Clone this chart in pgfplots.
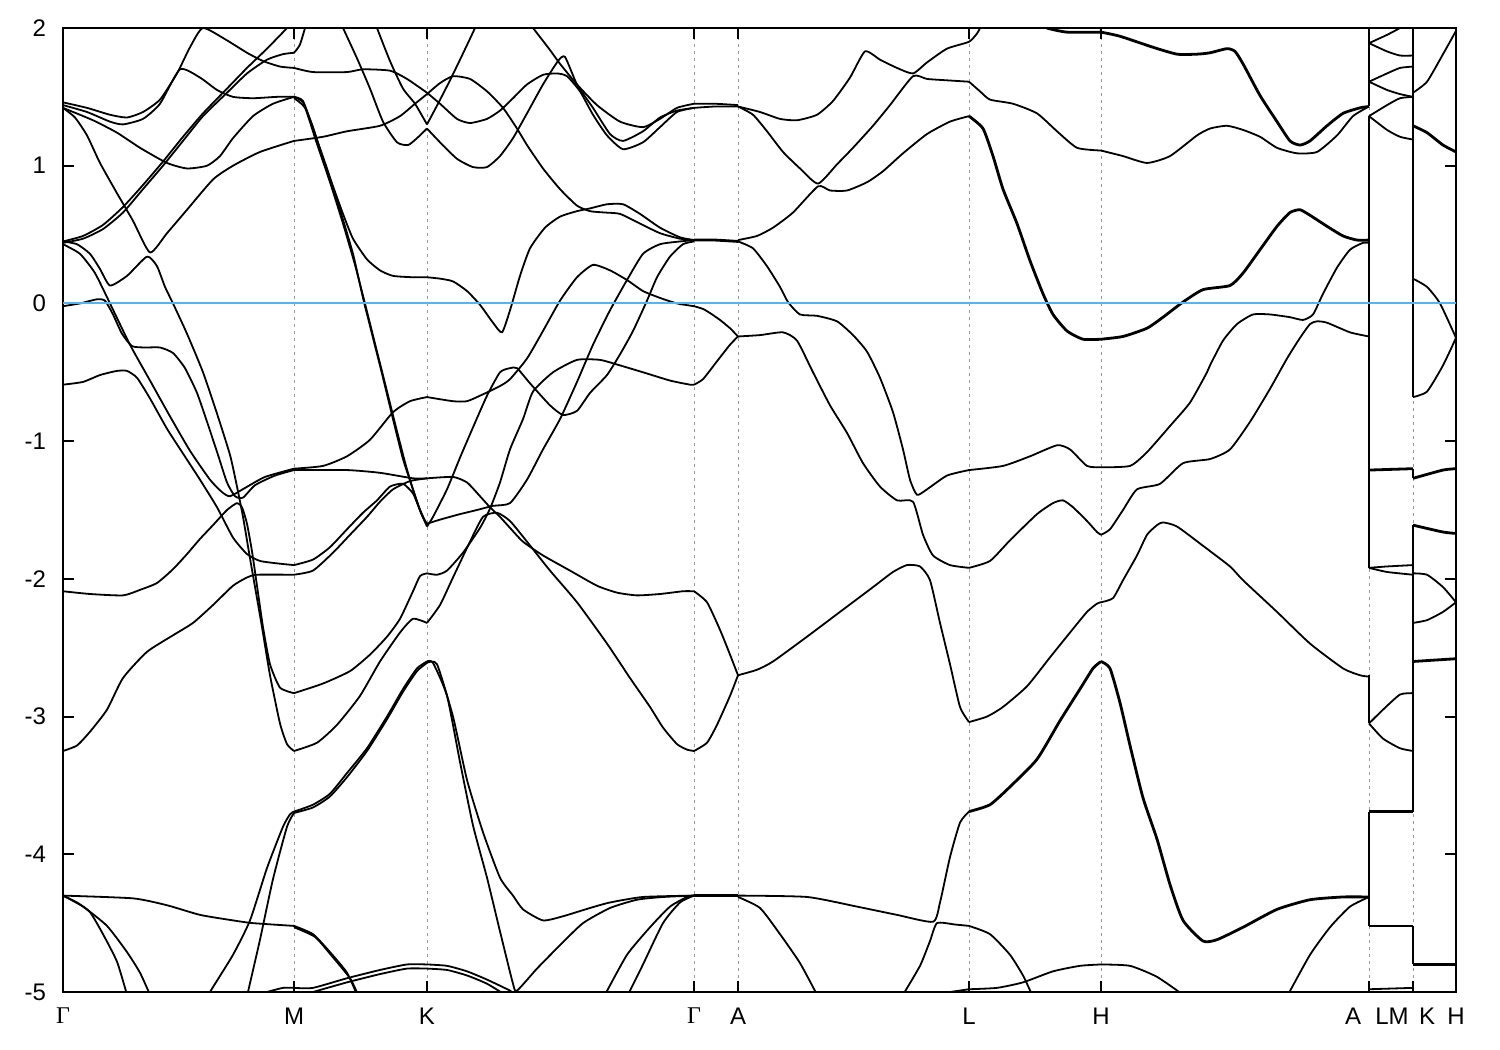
\documentclass[border=0pt]{standalone}
\usepackage{fontspec}
\setmainfont{Liberation Sans}
\newfontfamily\grk{Liberation Serif}
\usepackage{pgfplots}
\pgfplotsset{compat=1.18}
\definecolor{zeroblue}{RGB}{86,180,233}
\pgfplotsset{
  band/.style={black, line width=0.9pt, line join=round, smooth, tension=0.35},
  bandthick/.style={black, line width=1.4pt, line join=round, smooth, tension=0.35},
  jump/.style={black, line width=0.9pt},
}
\begin{document}
\begin{tikzpicture}
\useasboundingbox (-31.5pt,-29pt) rectangle (718.5pt,496pt);
\begin{axis}[
  at={(0pt,0pt)}, anchor=south west,
  scale only axis, width=696.5pt, height=482pt,
  xmin=63, xmax=1456, ymin=-5, ymax=2,
  xtick={63,294,427,694,738,969,1101,1369,1413,1456},
  xticklabels={{\grk Γ},M,K,{\grk Γ},A,L,H,{},{},H},
  extra x ticks={1353,1392,1427},
  extra x tick labels={A,LM,K},
  extra x tick style={major tick length=0pt, xmajorgrids=false},
  ytick={-5,-4,...,2},
  tick label style={font=\fontsize{12}{14}\selectfont},
  xticklabel style={yshift=-4.5pt},
  yticklabel style={xshift=-5pt},
  /pgf/number format/assume math mode=true,
  major tick length=5.5pt,
  tick style={black, line width=1pt},
  axis line style={line width=1pt},
  xmajorgrids,
  grid style={gray!80, line width=0.5pt, dash pattern=on 1.5pt off 2pt},
  no markers,
]

% ---- Gamma - M ----
\addplot[band] coordinates {(63,1.46)(87,1.42)(110,1.37)(127,1.35)(143,1.39)(160,1.48)(177,1.67)(190,1.86)(203,2.0)(227,1.91)(247,1.82)(263,1.76)(280,1.72)(294,1.71)};
\addplot[band] coordinates {(63,1.44)(87,1.39)(110,1.32)(123,1.30)(143,1.34)(160,1.45)(180,1.70)(200,1.64)(217,1.55)(233,1.50)(253,1.49)(277,1.50)(294,1.50)};
\addplot[band] coordinates {(63,1.42)(93,1.33)(117,1.24)(140,1.13)(167,1.02)(187,0.98)(207,1.0)(220,1.07)(233,1.20)(253,1.36)(273,1.45)(294,1.50)};
\addplot[band] coordinates {(63,1.42)(75,1.35)(87,1.22)(100,1.02)(117,0.80)(133,0.60)(150,0.37)(167,0.51)(187,0.68)(213,0.90)(233,1.00)(260,1.10)(294,1.18)};
\addplot[band] coordinates {(63,0.45)(83,0.49)(103,0.57)(123,0.70)(143,0.86)(163,1.03)(183,1.21)(203,1.38)(227,1.56)(247,1.71)(267,1.85)(287,2.0)(292,2.05)};
\addplot[band] coordinates {(63,0.44)(83,0.47)(103,0.54)(123,0.66)(143,0.83)(163,1.00)(183,1.18)(203,1.36)(227,1.53)(247,1.67)(267,1.77)(283,1.81)(294,1.82)};
\addplot[band] coordinates {(63,0.45)(77,0.43)(90,0.36)(100,0.25)(110,0.13)(127,0.20)(147,0.34)(157,0.27)(165,0.12)(173,0.0)(187,-0.22)(203,-0.50)(217,-0.80)(230,-1.10)(237,-1.33)(243,-1.55)(250,-1.85)(256,-2.10)(262,-2.35)(270,-2.70)(280,-3.05)(287,-3.20)(294,-3.25)};
\addplot[band] coordinates {(63,0.43)(80,0.36)(95,0.22)(110,0.0)(130,-0.30)(150,-0.56)(170,-0.82)(190,-1.07)(210,-1.28)(222,-1.37)(230,-1.40)(245,-1.34)(265,-1.26)(294,-1.20)};
\addplot[band] coordinates {(63,-0.02)(80,0.0)(97,0.03)(105,0.02)(113,-0.08)(122,-0.22)(132,-0.31)(145,-0.32)(160,-0.32)(173,-0.36)(185,-0.47)(197,-0.65)(208,-0.88)(218,-1.10)(227,-1.30)(235,-1.40)(243,-1.41)(255,-1.32)(275,-1.25)(294,-1.21)};
\addplot[band] coordinates {(63,-0.59)(83,-0.57)(100,-0.52)(117,-0.49)(127,-0.49)(137,-0.54)(150,-0.69)(167,-0.91)(183,-1.09)(200,-1.28)(217,-1.48)(233,-1.70)(247,-1.82)(260,-1.87)(280,-1.89)(294,-1.90)};
\addplot[band] coordinates {(63,-2.09)(90,-2.11)(123,-2.12)(140,-2.08)(157,-2.03)(173,-1.93)(187,-1.82)(200,-1.71)(213,-1.61)(227,-1.50)(237,-1.45)(242,-1.48)(247,-1.60)(252,-1.80)(257,-2.05)(263,-2.35)(270,-2.62)(280,-2.79)(294,-2.83)};
\addplot[band] coordinates {(63,-3.25)(77,-3.21)(90,-3.11)(107,-2.95)(123,-2.72)(147,-2.53)(173,-2.41)(193,-2.32)(213,-2.19)(233,-2.05)(247,-1.99)(257,-1.97)(294,-1.97)};
\addplot[band] coordinates {(63,-4.30)(133,-4.32)(167,-4.37)(200,-4.44)(233,-4.48)(253,-4.50)(294,-4.52)};
\addplot[band] coordinates {(63,-4.30)(77,-4.35)(90,-4.42)(103,-4.58)(117,-4.78)(127,-5.02)};
\addplot[band] coordinates {(63,-4.30)(83,-4.38)(107,-4.52)(127,-4.71)(140,-4.86)(150,-5.02)};
\addplot[band] coordinates {(208,-5.05)(210,-5.0)(233,-4.73)(250,-4.48)(267,-4.10)(283,-3.80)(290,-3.71)(294,-3.69)};
\addplot[band] coordinates {(247,-5.05)(248,-5.0)(260,-4.62)(273,-4.18)(287,-3.80)(294,-3.70)};
\addplot[band] coordinates {(267,-5.0)(283,-4.97)(294,-4.97)};

% ---- M - K ----
\addplot[band] coordinates {(294,1.82)(300,1.88)(307,2.05)};
\addplot[band] coordinates {(294,1.50)(303,1.46)(313,1.28)(323,1.05)(333,0.85)(343,0.65)(353,0.47)(367,0.32)(380,0.24)(393,0.20)(413,0.19)(427,0.19)};
\addplot[band] coordinates {(294,1.50)(303,1.47)(313,1.27)(327,0.98)(340,0.68)(353,0.36)(363,0.04)(373,-0.25)(383,-0.54)(393,-0.84)(403,-1.13)(413,-1.35)(420,-1.50)(427,-1.62)};
\addplot[band] coordinates {(294,1.49)(305,1.42)(316,1.18)(330,0.88)(343,0.58)(355,0.28)(366,-0.03)(376,-0.32)(386,-0.61)(396,-0.90)(406,-1.18)(415,-1.40)(422,-1.54)(427,-1.60)};
\addplot[band] coordinates {(294,1.71)(313,1.68)(347,1.68)(363,1.70)(390,1.69)(407,1.63)(427,1.53)};
\addplot[band] coordinates {(294,1.18)(323,1.21)(347,1.25)(380,1.29)(400,1.36)(415,1.45)(427,1.52)};
\addplot[band] coordinates {(343,2.0)(357,1.78)(370,1.56)(383,1.32)(397,1.17)(408,1.15)(417,1.20)(427,1.27)};
\addplot[band] coordinates {(375,2.05)(377,2.0)(390,1.76)(403,1.56)(415,1.45)(427,1.30)};
\addplot[band] coordinates {(294,-1.20)(323,-1.18)(347,-1.11)(370,-0.99)(393,-0.79)(410,-0.71)(427,-0.68)};
\addplot[band] coordinates {(294,-1.21)(347,-1.21)(380,-1.23)(413,-1.27)(427,-1.27)};
\addplot[band] coordinates {(294,-1.90)(313,-1.86)(330,-1.77)(347,-1.64)(363,-1.52)(377,-1.43)(390,-1.33)(403,-1.31)(413,-1.38)(420,-1.50)(427,-1.61)};
\addplot[band] coordinates {(294,-1.97)(313,-1.94)(333,-1.81)(350,-1.68)(367,-1.55)(380,-1.44)(393,-1.35)(410,-1.29)(427,-1.27)};
\addplot[band] coordinates {(294,-2.83)(323,-2.76)(350,-2.67)(370,-2.55)(387,-2.42)(400,-2.29)(413,-2.09)(420,-1.98)(427,-1.96)};
\addplot[band] coordinates {(294,-3.25)(317,-3.19)(337,-3.06)(360,-2.85)(380,-2.60)(400,-2.39)(413,-2.29)(427,-2.32)};
\addplot[band] coordinates {(294,-3.69)(313,-3.64)(330,-3.56)(347,-3.41)(367,-3.23)(387,-3.00)(403,-2.80)(417,-2.65)(427,-2.60)};
\addplot[band] coordinates {(294,-3.70)(313,-3.66)(330,-3.58)(347,-3.44)(367,-3.25)(387,-3.02)(403,-2.82)(417,-2.67)(427,-2.61)};
\addplot[band] coordinates {(294,-4.52)(313,-4.58)(330,-4.71)(347,-4.86)(357,-5.02)};
\addplot[band] coordinates {(294,-4.53)(315,-4.60)(332,-4.74)(350,-4.90)(358,-5.02)};
\addplot[band] coordinates {(294,-4.97)(313,-4.97)(347,-4.90)(380,-4.84)(407,-4.80)(427,-4.80)};
\addplot[band] coordinates {(313,-5.0)(347,-4.93)(380,-4.87)(407,-4.83)(427,-4.83)};

% ---- K - Gamma ----
\addplot[band] coordinates {(427,1.53)(440,1.45)(457,1.34)(470,1.31)(487,1.34)(500,1.40)(513,1.49)(527,1.59)(543,1.66)(557,1.67)(567,1.65)(580,1.54)(593,1.37)(607,1.22)(623,1.12)(643,1.17)(660,1.28)(677,1.39)(694,1.42)};
\addplot[band] coordinates {(427,1.52)(440,1.60)(453,1.65)(470,1.63)(487,1.54)(503,1.42)(517,1.27)(527,1.15)(543,0.98)(560,0.83)(577,0.71)(590,0.67)(605,0.66)(620,0.65)(640,0.58)(660,0.51)(680,0.47)(694,0.46)};
\addplot[band] coordinates {(427,1.27)(440,1.17)(457,1.05)(473,0.99)(487,0.99)(500,1.07)(513,1.20)(527,1.38)(543,1.59)(558,1.76)(565,1.79)(577,1.59)(593,1.42)(610,1.23)(623,1.18)(643,1.25)(660,1.35)(677,1.40)(694,1.42)};
\addplot[band] coordinates {(427,1.30)(438,1.45)(450,1.62)(462,1.80)(475,2.0)(477,2.05)};
\addplot[band] coordinates {(527,2.05)(533,2.0)(550,1.84)(560,1.74)(577,1.59)(597,1.44)(620,1.32)(643,1.28)(660,1.34)(677,1.42)(694,1.45)};
\addplot[band] coordinates {(427,0.19)(440,0.18)(453,0.16)(467,0.09)(480,-0.01)(493,-0.14)(502,-0.21)(510,-0.05)(520,0.20)(530,0.40)(545,0.55)(560,0.63)(577,0.67)(590,0.69)(607,0.72)(623,0.72)(640,0.65)(660,0.55)(680,0.48)(694,0.46)};
\addplot[band] coordinates {(427,-0.68)(453,-0.71)(467,-0.71)(483,-0.66)(500,-0.60)(510,-0.55)(527,-0.40)(543,-0.20)(560,0.02)(577,0.19)(593,0.28)(610,0.24)(627,0.17)(643,0.09)(660,0.04)(677,0.0)(694,-0.02)};
\addplot[band] coordinates {(427,-1.62)(433,-1.55)(447,-1.35)(460,-1.12)(473,-0.90)(487,-0.67)(500,-0.50)(510,-0.47)(517,-0.47)(530,-0.58)(550,-0.74)(563,-0.81)(577,-0.78)(590,-0.65)(607,-0.52)(620,-0.37)(633,-0.20)(647,0.02)(657,0.19)(670,0.34)(683,0.43)(694,0.45)};
\addplot[band] coordinates {(427,-1.60)(440,-1.57)(460,-1.53)(477,-1.50)(493,-1.47)(510,-1.45)(527,-1.28)(543,-1.06)(560,-0.84)(577,-0.57)(593,-0.30)(610,-0.05)(627,0.17)(643,0.36)(660,0.43)(680,0.45)(694,0.46)};
\addplot[band] coordinates {(427,-1.27)(453,-1.26)(467,-1.30)(480,-1.40)(490,-1.48)(500,-1.55)(510,-1.63)(523,-1.73)(543,-1.83)(570,-1.94)(597,-2.05)(617,-2.10)(637,-2.12)(660,-2.11)(683,-2.09)(694,-2.09)};
\addplot[band] coordinates {(427,-1.96)(437,-1.97)(447,-1.94)(463,-1.81)(480,-1.63)(490,-1.49)(500,-1.30)(510,-1.06)(523,-0.84)(533,-0.64)(553,-0.50)(577,-0.41)(600,-0.41)(620,-0.45)(643,-0.50)(670,-0.56)(690,-0.59)(694,-0.59)};
\addplot[band] coordinates {(427,-2.32)(440,-2.19)(453,-1.99)(470,-1.73)(483,-1.55)(497,-1.52)(510,-1.58)(527,-1.73)(550,-1.94)(577,-2.17)(607,-2.47)(630,-2.72)(650,-2.93)(663,-3.08)(677,-3.20)(687,-3.24)(694,-3.25)};
\addplot[band] coordinates {(427,-2.60)(433,-2.61)(447,-2.85)(460,-3.33)(473,-3.79)(487,-4.17)(500,-4.56)(513,-4.94)(517,-4.99)(537,-4.83)(560,-4.66)(583,-4.50)(610,-4.39)(637,-4.33)(663,-4.31)(694,-4.30)};
\addplot[band] coordinates {(427,-2.61)(437,-2.62)(453,-3.00)(467,-3.46)(483,-3.84)(500,-4.17)(513,-4.30)(523,-4.40)(543,-4.48)(563,-4.45)(590,-4.39)(610,-4.35)(643,-4.31)(694,-4.30)};
\addplot[band] coordinates {(605,-5.02)(627,-4.73)(650,-4.53)(670,-4.38)(687,-4.31)(694,-4.30)};
\addplot[band] coordinates {(628,-5.02)(643,-4.80)(663,-4.50)(680,-4.35)(694,-4.30)};
\addplot[band] coordinates {(427,-4.80)(447,-4.81)(467,-4.85)(487,-4.91)(510,-4.99)(515,-5.02)};
\addplot[band] coordinates {(427,-4.83)(447,-4.84)(467,-4.88)(487,-4.94)(505,-5.02)};

% ---- Gamma - A ----
\addplot[band] coordinates {(694,1.45)(715,1.45)(738,1.44)};
\addplot[band] coordinates {(694,1.42)(715,1.43)(738,1.43)};
\addplot[bandthick] coordinates {(694,0.46)(715,0.46)(738,0.45)};
\addplot[band] coordinates {(694,-0.02)(703,-0.04)(710,-0.07)(720,-0.12)(730,-0.18)(738,-0.24)};
\addplot[band] coordinates {(694,-0.59)(703,-0.55)(717,-0.42)(730,-0.30)(738,-0.24)};
\addplot[band] coordinates {(694,-2.09)(707,-2.17)(720,-2.37)(730,-2.55)(738,-2.70)};
\addplot[band] coordinates {(694,-3.25)(707,-3.19)(717,-3.06)(730,-2.85)(738,-2.70)};
\addplot[bandthick] coordinates {(694,-4.30)(738,-4.30)};

% ---- A - L ----
\addplot[band] coordinates {(738,1.43)(760,1.39)(780,1.34)(797,1.33)(817,1.37)(833,1.47)(850,1.64)(865,1.83)(880,1.77)(897,1.71)(913,1.67)(927,1.75)(947,1.85)(969,1.90)(977,1.96)(980,2.0)(982,2.05)};
\addplot[band] coordinates {(738,1.43)(753,1.37)(767,1.25)(783,1.10)(800,0.98)(818,0.87)(837,1.01)(853,1.13)(873,1.29)(890,1.44)(913,1.65)(927,1.63)(947,1.62)(969,1.61)};
\addplot[band] coordinates {(738,0.46)(757,0.49)(773,0.55)(793,0.66)(818,0.85)(830,0.82)(847,0.82)(867,0.88)(883,0.96)(903,1.09)(927,1.23)(950,1.32)(969,1.36)};
\addplot[band] coordinates {(738,0.45)(753,0.40)(767,0.27)(780,0.12)(788,0.01)(800,-0.08)(817,-0.09)(837,-0.13)(853,-0.23)(867,-0.35)(880,-0.54)(893,-0.79)(903,-1.06)(910,-1.28)(917,-1.39)(927,-1.35)(947,-1.25)(969,-1.21)};
\addplot[band] coordinates {(738,-0.24)(760,-0.23)(783,-0.21)(797,-0.27)(813,-0.50)(830,-0.74)(847,-0.94)(863,-1.16)(880,-1.33)(897,-1.43)(913,-1.44)(923,-1.68)(933,-1.83)(950,-1.90)(969,-1.92)};
\addplot[band] coordinates {(738,-2.70)(757,-2.66)(773,-2.60)(807,-2.42)(840,-2.24)(873,-2.06)(893,-1.95)(907,-1.90)(920,-1.91)(930,-2.01)(940,-2.32)(950,-2.62)(960,-2.93)(969,-3.04)};
\addplot[band] coordinates {(738,-4.30)(807,-4.31)(857,-4.38)(897,-4.44)(933,-4.49)(940,-4.35)(950,-4.02)(960,-3.77)(969,-3.69)};
\addplot[band] coordinates {(903,-5.02)(920,-4.81)(930,-4.63)(937,-4.50)(955,-4.51)(969,-4.52)};
\addplot[band] coordinates {(738,-4.31)(760,-4.39)(780,-4.58)(800,-4.79)(817,-5.02)};
\addplot[band] coordinates {(950,-5.0)(969,-4.98)};

% ---- L - H ----
\addplot[bandthick] coordinates {(1035,2.05)(1047,2.0)(1067,1.97)(1101,1.97)};
\addplot[band] coordinates {(969,1.61)(980,1.54)(990,1.48)(1013,1.45)(1037,1.38)(1057,1.25)(1077,1.13)(1101,1.11)};
\addplot[bandthick] coordinates {(969,1.36)(983,1.27)(993,1.07)(1003,0.83)(1017,0.58)(1030,0.31)(1043,0.07)(1053,-0.08)(1067,-0.20)(1083,-0.26)(1101,-0.26)};
\addplot[band] coordinates {(969,-1.21)(1003,-1.18)(1030,-1.11)(1057,-1.03)(1070,-1.06)(1087,-1.18)(1101,-1.19)};
\addplot[band] coordinates {(969,-1.92)(990,-1.87)(1010,-1.72)(1037,-1.53)(1053,-1.45)(1063,-1.43)(1073,-1.48)(1087,-1.58)(1097,-1.66)(1101,-1.68)};
\addplot[band] coordinates {(969,-3.04)(987,-3.00)(1003,-2.93)(1027,-2.78)(1050,-2.57)(1070,-2.39)(1087,-2.24)(1097,-2.18)(1101,-2.17)};
\addplot[bandthick] coordinates {(969,-3.69)(990,-3.64)(1010,-3.51)(1037,-3.31)(1060,-3.03)(1080,-2.80)(1093,-2.65)(1101,-2.60)};
\addplot[band] coordinates {(969,-4.52)(990,-4.58)(1010,-4.73)(1023,-4.88)(1032,-5.02)};
\addplot[band] coordinates {(969,-4.98)(997,-4.97)(1023,-4.93)(1053,-4.85)(1080,-4.81)(1101,-4.80)};

% ---- H - A ----
\addplot[bandthick] coordinates {(1101,1.97)(1120,1.94)(1153,1.86)(1177,1.81)(1197,1.81)(1210,1.82)(1227,1.85)(1235,1.83)(1243,1.74)(1260,1.51)(1277,1.32)(1290,1.18)(1300,1.15)(1310,1.18)(1327,1.29)(1343,1.38)(1360,1.42)(1369,1.43)};
\addplot[band] coordinates {(1101,1.11)(1123,1.07)(1147,1.02)(1170,1.07)(1197,1.22)(1210,1.27)(1227,1.29)(1243,1.26)(1260,1.21)(1277,1.13)(1297,1.09)(1317,1.10)(1337,1.22)(1353,1.36)(1369,1.43)};
\addplot[bandthick] coordinates {(1101,-0.26)(1123,-0.24)(1147,-0.18)(1163,-0.10)(1183,0.01)(1203,0.10)(1230,0.13)(1243,0.22)(1260,0.39)(1277,0.56)(1290,0.66)(1300,0.68)(1310,0.64)(1327,0.56)(1343,0.49)(1357,0.46)(1369,0.46)};
\addplot[band] coordinates {(1101,-1.19)(1130,-1.18)(1147,-1.08)(1170,-0.89)(1190,-0.72)(1207,-0.50)(1210,-0.45)(1223,-0.27)(1237,-0.15)(1253,-0.08)(1270,-0.08)(1290,-0.10)(1303,-0.12)(1313,-0.08)(1323,0.07)(1337,0.26)(1350,0.39)(1363,0.44)(1369,0.44)};
\addplot[band] coordinates {(1101,-1.68)(1110,-1.64)(1123,-1.50)(1137,-1.35)(1160,-1.31)(1183,-1.16)(1210,-1.13)(1230,-1.06)(1250,-0.86)(1270,-0.62)(1287,-0.40)(1300,-0.25)(1310,-0.15)(1317,-0.13)(1327,-0.14)(1350,-0.21)(1369,-0.24)};
\addplot[band] coordinates {(1101,-2.17)(1113,-2.14)(1123,-2.01)(1137,-1.83)(1147,-1.68)(1157,-1.61)(1163,-1.59)(1177,-1.62)(1203,-1.76)(1230,-1.91)(1243,-2.01)(1277,-2.24)(1310,-2.47)(1343,-2.65)(1360,-2.70)(1369,-2.71)};
\addplot[bandthick] coordinates {(1101,-2.60)(1110,-2.65)(1120,-2.90)(1130,-3.21)(1143,-3.59)(1157,-3.89)(1170,-4.22)(1183,-4.48)(1203,-4.63)(1217,-4.62)(1243,-4.53)(1277,-4.40)(1310,-4.33)(1343,-4.31)(1369,-4.31)};
\addplot[band] coordinates {(1101,-4.80)(1130,-4.81)(1157,-4.89)(1183,-5.02)};
\addplot[band] coordinates {(1288,-5.02)(1310,-4.73)(1330,-4.53)(1350,-4.38)(1369,-4.31)};

% ---- L - M ----
\addplot[band] coordinates {(1369,1.89)(1387,1.95)(1400,2.0)(1405,2.03)};
\addplot[band] coordinates {(1369,1.89)(1387,1.83)(1400,1.80)(1413,1.80)};
\addplot[band] coordinates {(1369,1.61)(1387,1.67)(1400,1.71)(1413,1.72)};
\addplot[band] coordinates {(1369,1.61)(1387,1.55)(1400,1.52)(1413,1.50)};
\addplot[band] coordinates {(1369,1.36)(1387,1.44)(1400,1.49)(1413,1.50)};
\addplot[band] coordinates {(1369,1.36)(1387,1.26)(1400,1.21)(1413,1.19)};
\addplot[bandthick] coordinates {(1369,-1.21)(1413,-1.20)};
\addplot[band] coordinates {(1369,-1.92)(1387,-1.91)(1413,-1.90)};
\addplot[band] coordinates {(1369,-1.92)(1387,-1.95)(1413,-1.97)};
\addplot[band] coordinates {(1369,-3.05)(1383,-2.95)(1400,-2.84)(1413,-2.83)};
\addplot[band] coordinates {(1369,-3.05)(1383,-3.16)(1400,-3.23)(1413,-3.25)};
\addplot[bandthick] coordinates {(1369,-3.69)(1413,-3.69)};
\addplot[band] coordinates {(1369,-4.52)(1413,-4.52)};
\addplot[band] coordinates {(1369,-4.98)(1413,-4.97)};

% ---- K - H ----
\addplot[band] coordinates {(1413,1.53)(1427,1.61)(1443,1.81)(1456,1.98)(1460,2.05)};
\addplot[bandthick] coordinates {(1413,1.29)(1427,1.24)(1443,1.15)(1456,1.10)};
\addplot[band] coordinates {(1413,0.18)(1427,0.12)(1440,0.0)(1456,-0.25)};
\addplot[band] coordinates {(1413,-0.68)(1427,-0.64)(1443,-0.45)(1456,-0.25)};
\addplot[bandthick] coordinates {(1413,-1.27)(1443,-1.21)(1456,-1.20)};
\addplot[bandthick] coordinates {(1413,-1.61)(1443,-1.66)(1456,-1.67)};
\addplot[band] coordinates {(1413,-1.96)(1427,-1.97)(1443,-2.06)(1456,-2.17)};
\addplot[band] coordinates {(1413,-2.32)(1427,-2.30)(1443,-2.24)(1456,-2.17)};
\addplot[bandthick] coordinates {(1413,-2.60)(1456,-2.58)};
\addplot[bandthick] coordinates {(1413,-4.80)(1456,-4.80)};

% ---- jumps at the path breaks ----
\addplot[jump] coordinates {(1369,1.43)(1369,2.1)};
\addplot[jump] coordinates {(1369,-1.92)(1369,1.36)};
\addplot[jump] coordinates {(1369,-3.05)(1369,-2.70)};
\addplot[jump] coordinates {(1369,-4.52)(1369,-3.69)};
\addplot[jump] coordinates {(1369,-5.1)(1369,-4.97)};
\addplot[jump] coordinates {(1413,-0.68)(1413,2.1)};
\addplot[jump] coordinates {(1413,-1.27)(1413,-1.20)};
\addplot[jump] coordinates {(1413,-3.69)(1413,-1.61)};
\addplot[jump] coordinates {(1413,-4.80)(1413,-4.52)};

% Fermi level
\addplot[color=zeroblue, line width=1pt] coordinates {(63,0) (1456,0)};
\end{axis}
\end{tikzpicture}
\end{document}
